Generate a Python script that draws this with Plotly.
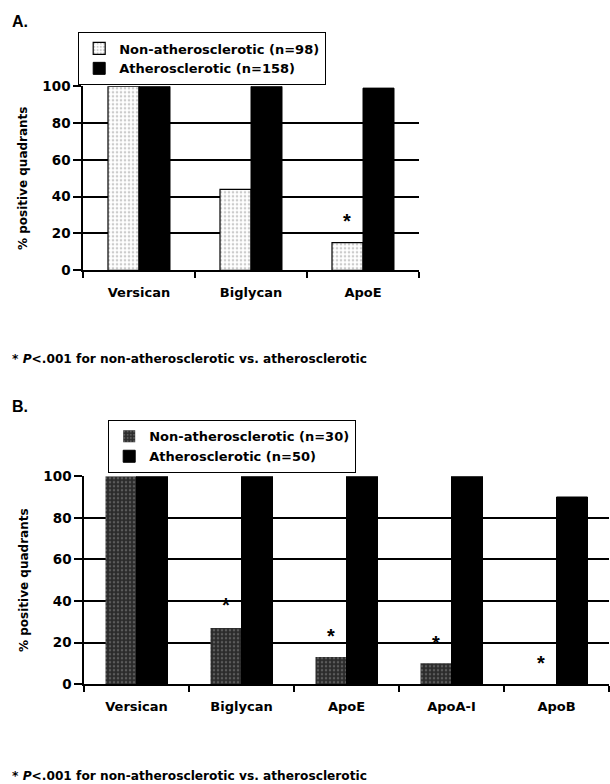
import plotly.graph_objects as go

# ---- Data ----
cats_a = ["Versican", "Biglycan", "ApoE"]
non_a = [100, 44, 15]
ath_a = [100, 100, 99]
star_a = [None, None, 27]

cats_b = ["Versican", "Biglycan", "ApoE", "ApoA-I", "ApoB"]
non_b = [100, 27, 13, 10, 0]
ath_b = [100, 100, 100, 100, 90]
star_b = [None, 38, 23, 20, 10]

yticks = [0, 20, 40, 60, 80, 100]

W, H = 610, 792
OFF, SC = 7.7, 0.98  # observed page offset / vertical scale of the capture
FONT = "DejaVu Sans, Arial, sans-serif"
SFONT = "Liberation Sans, Arial, sans-serif"

def px_x(x):
    return x / W

def px_y(y):
    return 1 - ((y - OFF) / SC) / H

fig = go.Figure()

wa = 31 / 112
wb = 31 / 105

fig.add_trace(go.Bar(
    x=cats_a, y=non_a, name="Non-atherosclerotic (n=98)",
    width=wa, offset=-wa, xaxis="x", yaxis="y", legend="legend",
    marker=dict(color="white", line=dict(color="black", width=1.2),
                pattern=dict(shape=".", fgcolor="#9a9a9a", bgcolor="white",
                             size=4, solidity=0.35)),
))
fig.add_trace(go.Bar(
    x=cats_a, y=ath_a, name="Atherosclerotic (n=158)",
    width=wa, offset=0, xaxis="x", yaxis="y", legend="legend",
    marker=dict(color="black", line=dict(color="black", width=1)),
))
fig.add_trace(go.Bar(
    x=cats_b, y=non_b, name="Non-atherosclerotic (n=30)",
    width=wb, offset=-wb, xaxis="x2", yaxis="y2", legend="legend2",
    marker=dict(color="#2b2b2b", line=dict(color="#222", width=0),
                pattern=dict(shape=".", fgcolor="#8a8a8a", bgcolor="#2b2b2b",
                             size=4, solidity=0.3)),
))
fig.add_trace(go.Bar(
    x=cats_b, y=ath_b, name="Atherosclerotic (n=50)",
    width=wb, offset=0, xaxis="x2", yaxis="y2", legend="legend2",
    marker=dict(color="black", line=dict(color="black", width=1)),
))

annotations = []
for c, s in zip(cats_a, star_a):
    if s is not None:
        annotations.append(dict(x=c, y=s, xref="x", yref="y", text="<b>*</b>",
                                showarrow=False, xshift=-16,
                                font=dict(family=SFONT, size=20, color="black")))
for c, s in zip(cats_b, star_b):
    if s is not None:
        annotations.append(dict(x=c, y=s, xref="x2", yref="y2", text="<b>*</b>",
                                showarrow=False, xshift=-16,
                                font=dict(family=SFONT, size=20, color="black")))

foot = "<b>* <i>P</i>&lt;.001 for non-atherosclerotic vs. atherosclerotic</b>"
annotations += [
    dict(x=px_x(10), y=px_y(21), xref="paper", yref="paper", text="<b>A.</b>",
         showarrow=False, xanchor="left", yanchor="middle",
         font=dict(family=SFONT, size=16, color="black")),
    dict(x=px_x(10), y=px_y(406), xref="paper", yref="paper", text="<b>B.</b>",
         showarrow=False, xanchor="left", yanchor="middle",
         font=dict(family=SFONT, size=16, color="black")),
    dict(x=px_x(10), y=px_y(359), xref="paper", yref="paper", text=foot,
         showarrow=False, xanchor="left", yanchor="middle",
         font=dict(family=FONT, size=12.2, color="black")),
    dict(x=px_x(10), y=px_y(776), xref="paper", yref="paper", text=foot,
         showarrow=False, xanchor="left", yanchor="middle",
         font=dict(family=FONT, size=12.2, color="black")),
]

xtickfont = dict(family=FONT, size=13, color="black", weight="bold")
ytickfont = dict(family=FONT, size=13.5, color="black", weight="bold")
titlefont = dict(family=FONT, size=12, color="black", weight="bold")
legfont = dict(family=FONT, size=13, color="black", weight="bold")

def xax(domain, anchor):
    return dict(domain=domain, anchor=anchor, type="category",
                showline=True, linecolor="black", linewidth=1.5,
                ticks="outside", tickson="boundaries", ticklen=6,
                tickcolor="black", tickwidth=1.5, showgrid=False,
                tickfont=xtickfont, ticklabelstandoff=9,
                zeroline=False, fixedrange=True)

def yax(domain, anchor):
    return dict(domain=domain, anchor=anchor, range=[0, 100],
                tickvals=yticks, showline=True, linecolor="black",
                linewidth=1.5, ticks="outside", ticklen=8, tickcolor="black",
                tickwidth=1.5, showgrid=True, gridcolor="black", gridwidth=1.5,
                zeroline=False, tickfont=ytickfont, fixedrange=True,
                title=dict(text="% positive quadrants", font=titlefont, standoff=12))

fig.update_layout(
    width=W, height=H,
    margin=dict(l=0, r=0, t=0, b=0),
    paper_bgcolor="white", plot_bgcolor="white",
    font=dict(family=FONT, color="black"),
    xaxis=xax([px_x(83), px_x(419)], "y"),
    yaxis=yax([px_y(270), px_y(86)], "x"),
    xaxis2=xax([px_x(84), px_x(609)], "y2"),
    yaxis2=yax([px_y(684), px_y(476)], "x2"),
    legend=dict(x=px_x(78), y=px_y(32), xanchor="left", yanchor="top",
                bordercolor="black", borderwidth=1.2, bgcolor="white",
                font=legfont, itemwidth=30, tracegroupgap=0),
    legend2=dict(x=px_x(108), y=px_y(420), xanchor="left", yanchor="top",
                 bordercolor="black", borderwidth=1.2, bgcolor="white",
                 font=legfont, itemwidth=30, tracegroupgap=0),
    annotations=annotations,
    showlegend=True,
)

fig.write_html(
    "out.html", config={"displayModeBar": False},
    post_script=("document.body.style.margin='0';document.body.style.padding='0';"
                 "document.documentElement.style.overflow='hidden';"
                 "document.body.style.overflow='hidden';"))
